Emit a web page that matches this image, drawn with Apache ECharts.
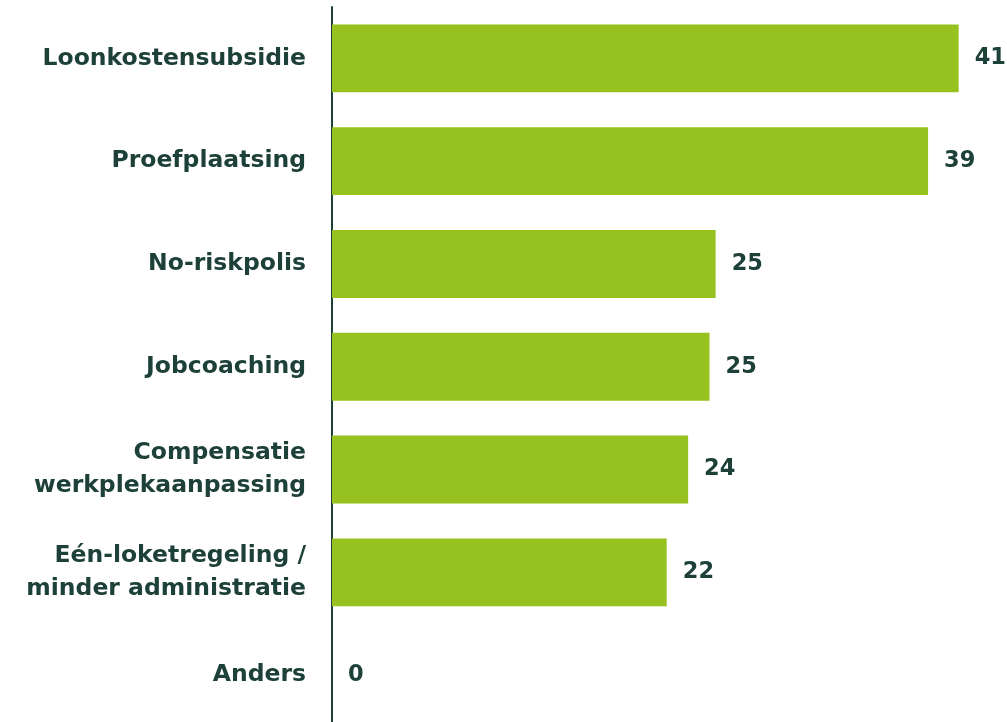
<!DOCTYPE html>
<html>
<head>
<meta charset="utf-8">
<script src="https://cdn.jsdelivr.net/npm/echarts@6/dist/echarts.min.js"></script>
<style>
html,body{margin:0;padding:0;background:#fff;}
#chart{width:1007px;height:722px;}
</style>
</head>
<body>
<div id="chart"></div>
<script>
const categories = [
  'Loonkostensubsidie',
  'Proefplaatsing',
  'No-riskpolis',
  'Jobcoaching',
  'Compensatie\nwerkplekaanpassing',
  'Eén-loketregeling /\nminder administratie',
  'Anders'
];
const values = [41, 39, 25.1, 24.7, 23.3, 21.9, 0];
const valueLabels = ['41', '39', '25', '25', '24', '22', '0'];

const dark = '#1d4138';
const green = '#97c11f';
const chart = echarts.init(document.getElementById('chart'), null, {renderer: 'canvas'});
chart.setOption({
  animation: false,
  backgroundColor: '#ffffff',
  grid: {left: 332, width: 672.5, top: 7, height: 719.5, containLabel: false, outerBoundsMode: 'none'},
  xAxis: {
    type: 'value', min: 0, max: 44,
    show: false
  },
  yAxis: {
    type: 'category',
    inverse: true,
    data: categories,
    axisLine: {show: true, lineStyle: {color: dark, width: 2}},
    axisTick: {show: false},
    axisLabel: {
      color: dark,
      fontFamily: 'DejaVu Sans',
      fontWeight: 'bold',
      fontSize: 23.5,
      lineHeight: 33,
      margin: 26,
      align: 'right'
    }
  },
  series: [{
    type: 'bar',
    data: values,
    barCategoryGap: '34%',
    itemStyle: {color: green},
    label: {
      show: true,
      position: 'right',
      distance: 16,
      color: dark,
      fontFamily: 'DejaVu Sans',
      fontWeight: 'bold',
      fontSize: 22.5,
      formatter: p => valueLabels[p.dataIndex]
    }
  }]
});
</script>
</body>
</html>
